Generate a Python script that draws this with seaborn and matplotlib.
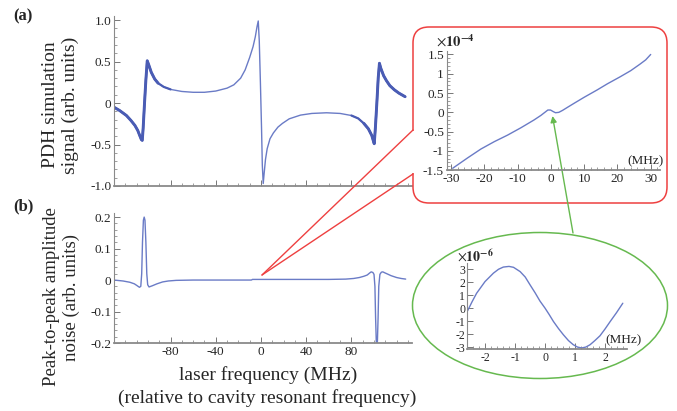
import numpy as np
import matplotlib
matplotlib.use("Agg")
import matplotlib.pyplot as plt
import seaborn as sns
from matplotlib.patches import FancyBboxPatch, Ellipse
from matplotlib.ticker import FixedLocator, MultipleLocator

# --- (a) PDH simulation signal vs laser frequency (MHz)
freq_a = [-130, -125, -119, -115, -111.5, -109, -107, -105.8, -105.0, -104.2, -103.0, -101.8,
          -100.6, -99.5, -97, -94, -91, -86, -80, -70, -60, -50, -40, -30, -24, -18, -14,
          -10, -7, -5, -3.5, -2.4, -1.5, -0.5, 0.5, 1.2, 2.0, 2.8, 4, 5.5, 8, 11, 15, 19,
          25, 35, 45, 58, 70, 80, 86, 91, 95, 98, 99.5, 100.2, 101.2, 102.5, 103.7, 104.8,
          106, 108.5, 111, 114, 118, 122, 127.5]
pdh_a = [-0.05, -0.09, -0.15, -0.21, -0.27, -0.33, -0.40, -0.44, -0.45, -0.30, 0.0, 0.28,
         0.51, 0.47, 0.37, 0.29, 0.24, 0.195, 0.165, 0.14, 0.13, 0.13, 0.145, 0.18, 0.22,
         0.30, 0.40, 0.55, 0.68, 0.80, 0.92, 0.99, 0.75, 0.25, -0.30, -0.75, -0.97, -0.85,
         -0.68, -0.55, -0.43, -0.36, -0.29, -0.245, -0.19, -0.145, -0.125, -0.117, -0.125,
         -0.15, -0.185, -0.245, -0.31, -0.39, -0.46, -0.49, -0.30, 0.0, 0.30, 0.48, 0.42,
         0.33, 0.27, 0.21, 0.16, 0.12, 0.077]

# --- (b) peak-to-peak amplitude noise
freq_b = [-130, -122, -116, -112, -109.5, -107.5, -106.3, -105.5, -104.8, -104.0, -103.3,
          -102.6, -101.8, -101.0, -100.2, -99, -96, -92, -87, -82, -75, -60, -40, -20, -8.5,
          -7.5, 0, 20, 40, 60, 75, 82, 87, 91, 94, 96, 97.5, 99, 100, 100.8, 101.4, 102.0,
          102.5, 103.0, 103.6, 104.2, 105.2, 106.5, 107.8, 109.5, 112, 115, 120, 124, 128]
noise_b = [0.0, -0.003, -0.007, -0.012, -0.018, -0.023, -0.02, 0.02, 0.12, 0.19, 0.2, 0.19,
           0.12, 0.02, -0.015, -0.022, -0.018, -0.012, -0.006, -0.003, -0.001, 0.0, 0.0, 0.0,
           0.0, 0.002, 0.002, 0.002, 0.002, 0.002, 0.003, 0.005, 0.008, 0.012, 0.016, 0.022,
           0.026, 0.024, 0.018, -0.02, -0.12, -0.195, -0.2, -0.195, -0.12, -0.02, 0.018,
           0.025, 0.026, 0.023, 0.019, 0.014, 0.008, 0.005, 0.003]

# --- red inset: noise near resonance, x1e-4
freq_r = [-29.5, -25, -21, -17, -13, -9, -5.1, -3, -1.8, -0.9, -0.1, 0.7, 1.4, 2.4, 3.5, 5,
          6.9, 10, 13.9, 17, 20.8, 24, 26.8, 28.5, 30]
noise_r = [-1.45, -1.18, -0.95, -0.76, -0.59, -0.40, -0.20, -0.08, 0.0, 0.06, 0.06, 0.02,
           -0.01, 0.0, 0.05, 0.13, 0.23, 0.39, 0.58, 0.74, 0.92, 1.08, 1.25, 1.36, 1.50]

# --- green inset: x1e-6
freq_g = [-2.58, -2.43, -2.28, -2.0, -1.72, -1.55, -1.39, -1.2, -1.05, -0.83, -0.66, -0.5,
          -0.33, -0.17, 0, 0.14, 0.28, 0.45, 0.61, 0.78, 0.94, 1.08, 1.22, 1.36, 1.5, 1.66,
          1.83, 2.0, 2.17, 2.38, 2.59]
noise_g = [-0.2, 0.5, 1.15, 2.05, 2.7, 3.0, 3.17, 3.22, 3.15, 2.82, 2.4, 1.8, 1.18, 0.55,
           0.0, -0.5, -1.03, -1.58, -2.05, -2.5, -2.82, -3.0, -3.07, -3.0, -2.82, -2.5,
           -2.13, -1.6, -1.03, -0.35, 0.38]

yt_a = [-1.0, -0.5, 0, 0.5, 1.0]
yl_a = ["-1.0", "-0.5", "0", "0.5", "1.0"]
yt_b = [-0.2, -0.1, 0, 0.1, 0.2]
yl_b = ["-0.2", "-0.1", "0", "0.1", "0.2"]
xt_b = [-80, -40, 0, 40, 80]
xl_b = ["-80", "-40", "0", "40", "80"]
yt_r = [-1.5, -1, -0.5, 0, 0.5, 1, 1.5]
yl_r = ["-1.5", "-1", "-0.5", "0", "0.5", "1", "1.5"]
xt_r = [-30, -20, -10, 0, 10, 20, 30]
yt_g = [-3, -2, -1, 0, 1, 2, 3]
xt_g = [-2, -1, 0, 1, 2]

sns.set_style("ticks")
plt.rcParams["font.family"] = ["Liberation Serif", "DejaVu Serif"]
plt.rcParams["mathtext.fontset"] = "stix"
plt.rcParams["axes.unicode_minus"] = False

W, H = 677, 411
fig = plt.figure(figsize=(6.77, 4.11), dpi=100)
BLUE = "#4a5cb4"
BLUE_L = "#6a7bc6"
RED = "#ee4040"
GREEN = "#66b94f"


def px_axes(l, t, r, b, z=0):
    return fig.add_axes([l / W, 1 - b / H, (r - l) / W, (b - t) / H], zorder=z)


def ftext(x, y, s, **kw):
    fig.text(x / W, 1 - y / H, s, **kw)


def style(ax, fs):
    sns.despine(ax=ax)
    ax.set_facecolor("none")
    for s in ["left", "bottom"]:
        ax.spines[s].set_color("#8a8a8a")
    ax.spines["left"].set_linewidth(0.8)
    ax.spines["bottom"].set_linewidth(1.3)
    ax.tick_params(which="both", direction="in", color="#777777", labelsize=fs, pad=2)
    ax.tick_params(which="major", length=4, width=0.7)
    ax.tick_params(which="minor", length=2, width=0.5)


# panel (a) - sideband regions drawn heavier, as in the original rendering
ax_a = px_axes(114, 16, 412, 186)
fa = np.array(freq_a)
pa = np.array(pdh_a)
sns.lineplot(x=fa, y=pa, ax=ax_a, color=BLUE_L, lw=1.0, sort=False, estimator=None)
for m, w in [(fa < -78, 1.6), (fa > 75, 1.6), (fa < -88, 2.1), (fa > 88, 2.1)]:
    sns.lineplot(x=fa[m], y=pa[m], ax=ax_a, color=BLUE, lw=w, sort=False, estimator=None)
ax_a.set_xlim(-130, 133.6)
ax_a.set_ylim(-1.0, 1.05)
ax_a.yaxis.set_major_locator(FixedLocator(yt_a))
ax_a.set_yticklabels(yl_a)
ax_a.yaxis.set_minor_locator(MultipleLocator(0.1))
ax_a.xaxis.set_major_locator(FixedLocator(xt_b))
ax_a.set_xticklabels([])
ax_a.xaxis.set_minor_locator(MultipleLocator(10))
style(ax_a, 9.5)

# panel (b)
ax_b = px_axes(114, 213, 412, 343)
sns.lineplot(x=freq_b, y=noise_b, ax=ax_b, color=BLUE_L, lw=1.0, sort=False, estimator=None)
ax_b.set_xlim(-130, 133.6)
ax_b.set_ylim(-0.2, 0.213)
ax_b.yaxis.set_major_locator(FixedLocator(yt_b))
ax_b.set_yticklabels(yl_b)
ax_b.yaxis.set_minor_locator(MultipleLocator(0.02))
ax_b.xaxis.set_major_locator(FixedLocator(xt_b))
ax_b.set_xticklabels(xl_b)
ax_b.xaxis.set_minor_locator(MultipleLocator(10))
style(ax_b, 9.5)

# overlay for callouts
ov = fig.add_axes([0, 0, 1, 1], zorder=1)
ov.set_xlim(0, W)
ov.set_ylim(H, 0)
ov.axis("off")
ov.add_patch(FancyBboxPatch((413, 27), 254, 176, boxstyle="round,pad=0,rounding_size=16",
                            ec=RED, fc="none", lw=1.1))
ov.plot([413, 413], [131, 173], color="white", lw=2.6, solid_capstyle="butt")
ov.plot([413, 262], [130, 275], color=RED, lw=1.0)
ov.plot([413, 262], [174, 275], color=RED, lw=1.0)
ov.add_patch(Ellipse((540, 305.5), 255, 146, ec=GREEN, fc="none", lw=1.1))
ov.annotate("", xy=(552.5, 116), xytext=(573, 233),
            arrowprops=dict(arrowstyle="-|>", color=GREEN, lw=1.0, mutation_scale=9,
                            shrinkA=0, shrinkB=0))

# red inset
ax_r = px_axes(446.7, 51, 660, 170.2, z=2)
sns.lineplot(x=freq_r, y=noise_r, ax=ax_r, color=BLUE_L, lw=1.0, sort=False, estimator=None)
ax_r.set_xlim(-31.3, 32.8)
ax_r.set_ylim(-1.5, 1.59)
ax_r.yaxis.set_major_locator(FixedLocator(yt_r))
ax_r.set_yticklabels(yl_r)
ax_r.yaxis.set_minor_locator(MultipleLocator(0.1))
ax_r.xaxis.set_major_locator(FixedLocator(xt_r))
ax_r.xaxis.set_minor_locator(MultipleLocator(2))
style(ax_r, 9.5)

# green inset
ax_g = px_axes(466.7, 263.3, 626.7, 349, z=2)
sns.lineplot(x=freq_g, y=noise_g, ax=ax_g, color=BLUE_L, lw=1.0, sort=False, estimator=None)
ax_g.set_xlim(-2.61, 2.72)
ax_g.set_ylim(-3.15, 3.46)
ax_g.yaxis.set_major_locator(FixedLocator(yt_g))
ax_g.xaxis.set_major_locator(FixedLocator(xt_g))
ax_g.xaxis.set_minor_locator(MultipleLocator(0.2))
style(ax_g, 8.5)
ax_g.tick_params(axis="y", pad=1)

# texts
ftext(23, 16, "(a)", fontsize=12, fontweight="bold", ha="center", va="center")
ftext(23, 206, "(b)", fontsize=12, fontweight="bold", ha="center", va="center")
ftext(60.5, 105, "PDH simulation\nsignal (arb. units)", fontsize=14, rotation=90,
      ha="center", va="center", multialignment="center", linespacing=1.15)
ftext(61.5, 297, "Peak-to-peak amplitude\nnoise (arb. units)", fontsize=13.5, rotation=90,
      ha="center", va="center", multialignment="center", linespacing=1.15)
ftext(268, 375, "laser frequency (MHz)", fontsize=14, ha="center", va="center")
ftext(267, 398, "(relative to cavity resonant frequency)", fontsize=14, ha="center", va="center")
ftext(436, 41, r"$\times\mathbf{10}^{\mathbf{-4}}$", fontsize=10.5, ha="left", va="center")
ftext(457, 257, r"$\times\mathbf{10}^{\mathbf{-6}}$", fontsize=10, ha="left", va="center")
ftext(645, 161, "(MHz)", fontsize=9.5, ha="center", va="center")
ftext(623, 340, "(MHz)", fontsize=9.5, ha="center", va="center")

fig.savefig("out.png", dpi=100)
